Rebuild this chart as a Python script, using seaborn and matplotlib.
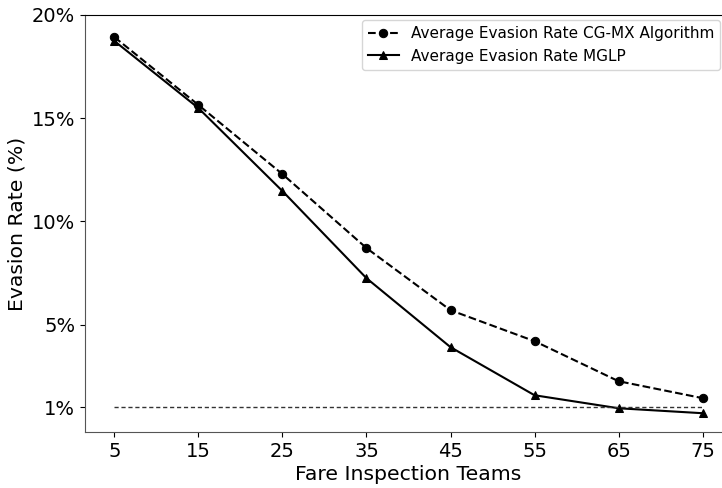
import matplotlib
matplotlib.use("Agg")
import matplotlib.pyplot as plt
import seaborn as sns
import pandas as pd
from matplotlib.ticker import FuncFormatter

# Data
teams = [5, 15, 25, 35, 45, 55, 65, 75]
cgmx_rate = [18.93, 15.64, 12.29, 8.71, 5.70, 4.20, 2.26, 1.44]
mglp_rate = [18.74, 15.49, 11.47, 7.25, 3.91, 1.58, 0.95, 0.71]
y_ticks = [1, 5, 10, 15, 20]
target_rate = 1

label_cgmx = "Average Evasion Rate CG-MX Algorithm"
label_mglp = "Average Evasion Rate MGLP"

df = pd.DataFrame({
    "teams": teams * 2,
    "rate": cgmx_rate + mglp_rate,
    "series": [label_cgmx] * len(teams) + [label_mglp] * len(teams),
})

fig = plt.figure(figsize=(7.22, 4.88), dpi=100)
ax = fig.add_axes([85 / 722, 56 / 488, (732 - 85) / 722, (473 - 56) / 488])

sns.lineplot(data=df, x="teams", y="rate", hue="series", style="series",
             palette=["black", "black"],
             markers={label_cgmx: "o", label_mglp: "^"},
             dashes={label_cgmx: (3.7, 1.6), label_mglp: ""},
             markersize=6, markeredgecolor="black", linewidth=1.5, ax=ax)

ax.hlines(target_rate, teams[0], teams[-1], colors="#333333",
          linestyles=(0, (3, 2)), linewidth=1)

ax.set_xlim(1.5, 78.5)
ax.set_ylim(-0.2, 20)
ax.set_xticks(teams)
ax.set_yticks(y_ticks)
ax.yaxis.set_major_formatter(FuncFormatter(lambda v, p: f"{v:g}%"))
ax.tick_params(labelsize=14)
ax.set_xlabel("Fare Inspection Teams", fontsize=14.7, labelpad=3)
ax.set_ylabel("Evasion Rate (%)", fontsize=14.7)

for side in ["left", "bottom"]:
    ax.spines[side].set_color("#555555")

leg = ax.legend(loc="upper left", bbox_to_anchor=(0.428, 0.988), fontsize=11,
                frameon=True, handlelength=2.0, borderaxespad=0)
leg.get_frame().set_edgecolor("#cccccc")

fig.savefig("out.png", dpi=100)
